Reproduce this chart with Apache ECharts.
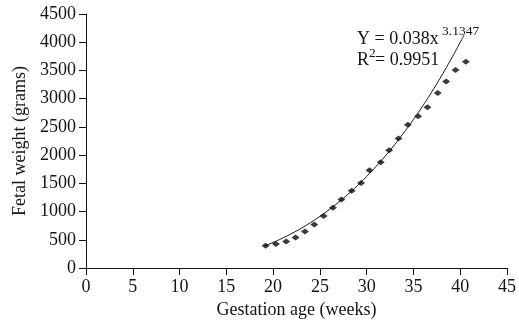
<!DOCTYPE html>
<html>
<head>
<meta charset="utf-8">
<script src="https://cdn.jsdelivr.net/npm/echarts@6/dist/echarts.min.js"></script>
<style>
  html, body { margin: 0; padding: 0; background: #fff; }
  #chart { width: 519px; height: 324px; }
</style>
</head>
<body>
<div id="chart"></div>
<script>
// observed fetal weights by gestation age
const weeks = [19.2, 20.3, 21.4, 22.4, 23.4, 24.4, 25.4, 26.4, 27.3, 28.4, 29.4,
  30.3, 31.5, 32.4, 33.4, 34.4, 35.5, 36.5, 37.6, 38.5, 39.5, 40.6];
const weights = [397, 425, 473, 543, 648, 770, 923, 1068, 1213, 1371, 1506,
  1733, 1874, 2089, 2294, 2539, 2691, 2849, 3099, 3304, 3507, 3654];

// fitted power curve
const trendWeeks = [19, 20, 21, 22, 23, 24, 25, 26, 27, 28, 29, 30, 31, 32, 33,
  34, 35, 36, 37, 38, 39, 40, 40.4];
const trendWeights = [388, 455, 530, 614, 705, 806, 916, 1036, 1167, 1307, 1459,
  1623, 1799, 1987, 2188, 2403, 2631, 2874, 3132, 3405, 3694, 3999, 4125];

const serif = '"Liberation Serif", "Times New Roman", serif';
const ink = '#141414';

const chart = echarts.init(document.getElementById('chart'), null, {renderer: 'canvas'});

chart.setOption({
  animation: false,
  grid: {left: 86, right: 10, top: 14, bottom: 53},
  xAxis: {
    type: 'value',
    min: 0,
    max: 45,
    interval: 5,
    name: 'Gestation age (weeks)',
    nameLocation: 'middle',
    nameGap: 31,
    nameTextStyle: {fontFamily: serif, fontSize: 18, color: ink},
    axisLine: {onZero: false, lineStyle: {color: ink, width: 1}},
    axisTick: {show: true, length: 7, lineStyle: {color: ink}},
    axisLabel: {fontFamily: serif, fontSize: 18, color: ink, margin: 10},
    splitLine: {show: false},
  },
  yAxis: {
    type: 'value',
    min: 0,
    max: 4500,
    interval: 500,
    name: 'Fetal weight (grams)',
    nameLocation: 'middle',
    nameGap: 55,
    nameTextStyle: {fontFamily: serif, fontSize: 18, color: ink},
    axisLine: {show: true, lineStyle: {color: ink, width: 1}},
    axisTick: {show: true, length: 7, lineStyle: {color: ink}},
    axisLabel: {fontFamily: serif, fontSize: 18, color: ink, margin: 10, formatter: v => String(v)},
    splitLine: {show: false},
  },
  graphic: [
    {type: 'text', style: {x: 357, y: 39, text: 'Y = 0.038x', font: '18px ' + serif, fill: ink, verticalAlign: 'middle'}},
    {type: 'text', style: {x: 442, y: 31, text: '3.1347', font: '13.5px ' + serif, fill: ink, verticalAlign: 'middle'}},
    {type: 'text', style: {x: 357, y: 60.5, text: 'R', font: '18px ' + serif, fill: ink, verticalAlign: 'middle'}},
    {type: 'text', style: {x: 369, y: 53, text: '2', font: '13.5px ' + serif, fill: ink, verticalAlign: 'middle'}},
    {type: 'text', style: {x: 375, y: 60.5, text: '= 0.9951', font: '18px ' + serif, fill: ink, verticalAlign: 'middle'}},
  ],
  series: [
    {
      type: 'line',
      data: trendWeeks.map((w, i) => [w, trendWeights[i]]),
      smooth: true,
      showSymbol: false,
      lineStyle: {color: ink, width: 1},
      z: 2,
    },
    {
      type: 'scatter',
      data: weeks.map((w, i) => [w, weights[i]]),
      symbol: 'diamond',
      symbolSize: [8, 6],
      itemStyle: {color: '#0a0a0a'},
      z: 3,
    },
  ],
});
</script>
</body>
</html>
